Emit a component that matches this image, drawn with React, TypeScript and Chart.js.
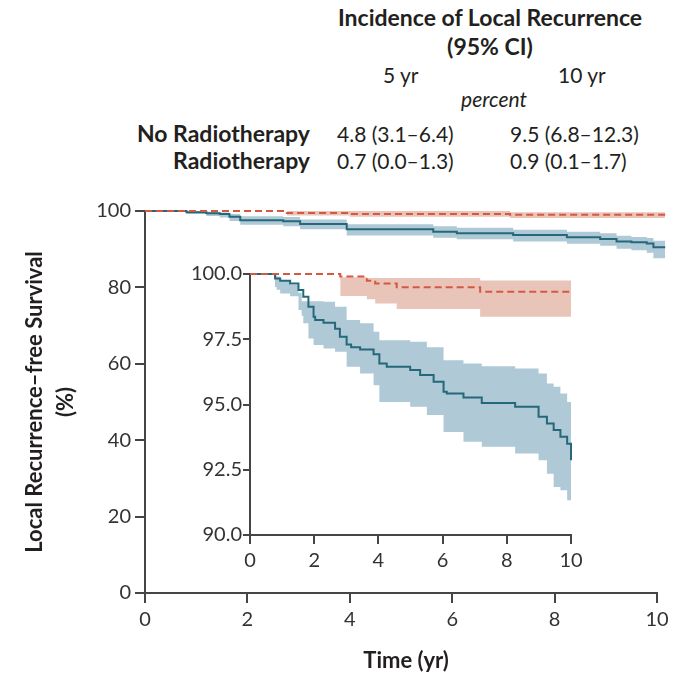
import React, { useEffect, useRef } from "react";
import { Chart, registerables } from "chart.js";

Chart.register(...registerables);

type Pt = [number, number];

// ---------- Main panel (0–100 %), time in years ----------
const mainNoRT: Pt[] = [
  [0, 100], [0.81, 99.7], [1.2, 99.4], [1.46, 99.2], [1.65, 98.5], [1.86, 97.6],
  [2.7, 97.3], [3.03, 96.6], [3.94, 95.2], [5.63, 94.6], [6.09, 94.2], [7.19, 93.7],
  [8.24, 93.1], [8.89, 92.7], [9.21, 92.0], [9.5, 91.8], [9.8, 91.5], [9.93, 90.5], [10.16, 90.5],
];
const mainNoRTUpper: Pt[] = [
  [0.81, 100], [1.2, 99.8], [1.46, 99.6], [1.65, 99.2], [1.86, 98.6], [2.7, 98.4],
  [3.03, 97.8], [3.94, 96.5], [5.63, 96.0], [6.09, 95.6], [7.19, 95.1], [8.24, 94.6],
  [8.89, 94.2], [9.21, 93.5], [9.5, 93.2], [9.8, 92.9], [9.93, 92.2], [10.16, 92.0],
];
const mainNoRTLower: Pt[] = [
  [0.81, 99.2], [1.2, 98.7], [1.46, 98.3], [1.65, 97.4], [1.86, 96.4], [2.7, 96.0],
  [3.03, 95.2], [3.94, 93.6], [5.63, 93.0], [6.09, 92.6], [7.19, 92.0], [8.24, 91.4],
  [8.89, 90.9], [9.21, 90.1], [9.5, 89.7], [9.8, 89.1], [9.93, 87.6], [10.16, 86.6],
];
const mainRT: Pt[] = [[0, 100], [2.77, 99.5], [4.0, 99.2], [7.13, 99.0], [10.16, 99.0]];
const mainRTUpper: Pt[] = [[2.77, 100], [4.0, 100], [7.13, 99.7], [10.16, 99.7]];
const mainRTLower: Pt[] = [[2.77, 98.8], [4.0, 98.5], [7.13, 98.2], [10.16, 98.2]];

// ---------- Inset (90–100 %) ----------
const insetNoRT: Pt[] = [
  [0, 100], [0.78, 99.83], [0.94, 99.74], [1.25, 99.64], [1.51, 99.39], [1.66, 99.13],
  [1.82, 98.75], [1.98, 98.36], [2.03, 98.24], [2.29, 98.13], [2.65, 97.9], [2.8, 97.6],
  [3.01, 97.3], [3.15, 97.19], [3.43, 97.11], [3.85, 96.93], [4.03, 96.57], [4.26, 96.45],
  [4.99, 96.32], [5.3, 96.13], [5.72, 95.87], [6.03, 95.49], [6.13, 95.42], [6.65, 95.27],
  [7.22, 95.06], [8.26, 94.91], [8.99, 94.53], [9.25, 94.27], [9.46, 94.02], [9.67, 93.76],
  [9.88, 93.5], [10, 92.86],
];
const insetNoRTUpper: Pt[] = [
  [0.78, 100], [0.83, 99.9], [0.94, 99.77], [1.25, 99.58], [1.51, 99.28], [1.61, 98.96],
  [2.29, 98.94], [2.65, 98.75], [3.01, 98.24], [3.43, 98.11], [3.85, 97.79], [4.03, 97.46],
  [4.99, 97.4], [5.51, 97.19], [6.03, 96.7], [6.65, 96.57], [7.22, 96.47], [8.26, 96.38],
  [8.99, 96.19], [9.25, 95.8], [9.46, 95.68], [9.67, 95.42], [9.88, 95.1], [10, 95.04],
];
const insetNoRTLower: Pt[] = [
  [0.78, 99.5], [0.83, 99.4], [0.94, 99.25], [1.25, 99.15], [1.51, 98.62], [1.61, 98.4],
  [1.66, 98.11], [1.82, 97.53], [1.98, 97.28], [2.29, 97.15], [2.65, 97.02], [3.01, 96.45],
  [3.43, 96.19], [3.85, 95.74], [4.03, 95.1], [4.99, 94.91], [5.51, 94.6], [6.03, 93.95],
  [6.65, 93.57], [7.22, 93.38], [8.26, 93.12], [8.99, 92.86], [9.25, 92.35], [9.46, 91.84],
  [9.67, 91.71], [9.88, 91.33], [10, 90.56],
];
const insetRT: Pt[] = [
  [0, 100], [2.81, 99.9], [3.64, 99.74], [3.9, 99.64], [4.57, 99.49], [7.17, 99.32], [10, 99.32],
];
const insetRTUpper: Pt[] = [
  [2.81, 99.88], [3.64, 99.85], [3.9, 99.85], [4.57, 99.85], [7.17, 99.75], [10, 99.75],
];
const insetRTLower: Pt[] = [
  [2.81, 99.16], [3.64, 99.03], [3.9, 98.87], [4.57, 98.66], [7.17, 98.36], [10, 98.36],
];

// ---------- Ticks & texts ----------
const mainXTicks = [0, 2, 4, 6, 8, 10];
const mainYTicks = [0, 20, 40, 60, 80, 100];
const insetXTicks = [0, 2, 4, 6, 8, 10];
const insetYTicks = [90, 92.5, 95, 97.5, 100];

const tableTitle = ["Incidence of Local Recurrence", "(95% CI)"];
const tableYears = ["5 yr", "10 yr"];
const tableUnit = "percent";
const groups = ["No Radiotherapy", "Radiotherapy"];
const incidence5yr = ["4.8 (3.1–6.4)", "0.7 (0.0–1.3)"];
const incidence10yr = ["9.5 (6.8–12.3)", "0.9 (0.1–1.7)"];
const yTitle = ["Local Recurrence–free Survival", "(%)"];
const xTitle = "Time (yr)";

const FONT = "Lato, 'Open Sans', 'DejaVu Sans', sans-serif";
const TEAL = "rgb(36,104,122)";
const TEAL_BAND = "rgb(176,201,214)";
const RED = "rgb(213,88,66)";
const RED_BAND = "rgb(233,196,184)";
const AXIS = "#454545";
const TICK = "#333333";
const TEXT = "#231f20";

const toXY = (a: Pt[]) => a.map(([x, y]) => ({ x, y }));

function makeDatasets(
  noRT: Pt[], noRTUp: Pt[], noRTLo: Pt[], rt: Pt[], rtUp: Pt[], rtLo: Pt[]
): any[] {
  const base = { pointRadius: 0, pointHoverRadius: 0, stepped: true, tension: 0, clip: false };
  const none = "rgba(0,0,0,0)";
  return [
    { ...base, label: "Radiotherapy", data: toXY(rt), borderColor: RED, borderWidth: 2, borderDash: [7, 4], fill: false, order: 0 },
    { ...base, label: "No Radiotherapy", data: toXY(noRT), borderColor: TEAL, borderWidth: 2, fill: false, order: 1 },
    { ...base, label: "RT upper", data: toXY(rtUp), borderColor: none, borderWidth: 0, backgroundColor: RED_BAND, fill: "+1", order: 2 },
    { ...base, label: "RT lower", data: toXY(rtLo), borderColor: none, borderWidth: 0, fill: false, order: 2 },
    { ...base, label: "No RT upper", data: toXY(noRTUp), borderColor: none, borderWidth: 0, backgroundColor: TEAL_BAND, fill: "+1", order: 3 },
    { ...base, label: "No RT lower", data: toXY(noRTLo), borderColor: none, borderWidth: 0, fill: false, order: 3 },
  ];
}

const fixedTicks = (vals: number[]) => (s: any) => {
  s.ticks = vals.map((v) => ({ value: v }));
};

// draws the main x-axis line only from 0 to 10 (curves extend slightly past 10)
const mainXAxisLine = {
  id: "mainXAxisLine",
  afterDraw(chart: any) {
    const { ctx, scales } = chart;
    const x = scales.x;
    const y = scales.y;
    const yy = Math.round(y.getPixelForValue(0));
    ctx.save();
    ctx.strokeStyle = AXIS;
    ctx.lineWidth = 2;
    ctx.beginPath();
    ctx.moveTo(x.getPixelForValue(mainXTicks[0]) - 1, yy);
    ctx.lineTo(x.getPixelForValue(mainXTicks[mainXTicks.length - 1]) + 1, yy);
    ctx.stroke();
    ctx.restore();
  },
};

function Txt(props: {
  x: number; y: number; text: string; align?: "left" | "right" | "center";
  size?: number; bold?: boolean; italic?: boolean;
}) {
  const { x, y, text, align = "left", size = 21, bold = false, italic = false } = props;
  const w = 400;
  const left = align === "left" ? x : align === "right" ? x - w : x - w / 2;
  return (
    <div
      style={{
        position: "absolute",
        left,
        top: y - 0.887 * size,
        width: w,
        textAlign: align,
        fontFamily: FONT,
        fontSize: size,
        lineHeight: 1,
        fontWeight: bold ? 700 : 400,
        fontStyle: italic ? "italic" : "normal",
        color: TEXT,
        whiteSpace: "nowrap",
      }}
    >
      {text}
    </div>
  );
}

export default function App() {
  const mainRef = useRef<HTMLCanvasElement | null>(null);
  const insetRef = useRef<HTMLCanvasElement | null>(null);

  useEffect(() => {
    document.body.style.margin = "0";
    const tickFont = { family: FONT, size: 20 };
    const titleFont = { family: FONT, size: 22, weight: "bold" as const };

    const common: any = {
      animation: false,
      responsive: false,
      devicePixelRatio: 1,
      events: [],
      plugins: { legend: { display: false }, tooltip: { enabled: false }, title: { display: false } },
    };

    const main = new Chart(mainRef.current!, {
      type: "line",
      data: { datasets: makeDatasets(mainNoRT, mainNoRTUpper, mainNoRTLower, mainRT, mainRTUpper, mainRTLower) },
      options: {
        ...common,
        layout: { padding: { left: 0, top: 211, right: 17.76, bottom: 0 } },
        scales: {
          x: {
            type: "linear", min: 0, max: 10.2,
            afterBuildTicks: fixedTicks(mainXTicks),
            afterFit: (s: any) => { s.height = 84; },
            grid: { display: true, drawOnChartArea: false, drawTicks: true, tickLength: 10, color: AXIS, lineWidth: 2 },
            border: { display: false },
            ticks: { font: tickFont, color: TICK, padding: 5, maxRotation: 0, autoSkip: false },
            title: { display: true, text: xTitle, font: titleFont, color: TEXT, padding: { top: 0, bottom: 3 } },
          },
          y: {
            type: "linear", min: 0, max: 100,
            afterBuildTicks: fixedTicks(mainYTicks),
            afterFit: (s: any) => { s.width = 145; },
            grid: { display: true, drawOnChartArea: false, drawTicks: true, tickLength: 10, color: AXIS, lineWidth: 2 },
            border: { display: true, color: AXIS, width: 2 },
            ticks: { font: tickFont, color: TICK, padding: 4, autoSkip: false },
            title: {
              display: true, text: yTitle, color: TEXT,
              font: { family: FONT, size: 22, weight: "bold", lineHeight: 1.41 },
              padding: { top: 19.5, bottom: 0 },
            },
          },
        },
      },
      plugins: [mainXAxisLine],
    } as any);

    const inset = new Chart(insetRef.current!, {
      type: "line",
      data: { datasets: makeDatasets(insetNoRT, insetNoRTUpper, insetNoRTLower, insetRT, insetRTUpper, insetRTLower) },
      options: {
        ...common,
        layout: { padding: { left: 0, top: 19, right: 29, bottom: 0 } },
        scales: {
          x: {
            type: "linear", min: 0, max: 10,
            afterBuildTicks: fixedTicks(insetXTicks),
            afterFit: (s: any) => { s.height = 50; },
            grid: { display: true, drawOnChartArea: false, drawTicks: true, tickLength: 9, color: AXIS, lineWidth: 2 },
            border: { display: true, color: AXIS, width: 2 },
            ticks: { font: tickFont, color: TICK, padding: 5, maxRotation: 0, autoSkip: false },
          },
          y: {
            type: "linear", min: 90, max: 100,
            afterBuildTicks: fixedTicks(insetYTicks),
            afterFit: (s: any) => { s.width = 80; },
            grid: { display: true, drawOnChartArea: false, drawTicks: true, tickLength: 7, color: AXIS, lineWidth: 2 },
            border: { display: true, color: AXIS, width: 2 },
            ticks: { font: tickFont, color: TICK, padding: 1, autoSkip: false, callback: (v: any) => Number(v).toFixed(1) },
          },
        },
      },
    } as any);

    return () => {
      main.destroy();
      inset.destroy();
    };
  }, []);

  return (
    <div style={{ position: "relative", width: 685, height: 677, overflow: "hidden", background: "#fff" }}>
      <Txt x={490} y={26} text={tableTitle[0]} align="center" size={23} bold />
      <Txt x={490} y={55} text={tableTitle[1]} align="center" size={23} bold />
      <Txt x={383} y={83} text={tableYears[0]} />
      <Txt x={558} y={83} text={tableYears[1]} />
      <Txt x={494} y={107} text={tableUnit} align="center" italic />
      {groups.map((g, i) => (
        <Txt key={g} x={310} y={142 + i * 27} text={g} align="right" size={23} bold />
      ))}
      {incidence5yr.map((v, i) => (
        <Txt key={"a" + i} x={337} y={142 + i * 27} text={v} />
      ))}
      {incidence10yr.map((v, i) => (
        <Txt key={"b" + i} x={510} y={142 + i * 27} text={v} />
      ))}
      <canvas ref={mainRef} width={685} height={677} style={{ position: "absolute", left: 0, top: 0 }} />
      <canvas ref={insetRef} width={430} height={330} style={{ position: "absolute", left: 170, top: 255 }} />
    </div>
  );
}
